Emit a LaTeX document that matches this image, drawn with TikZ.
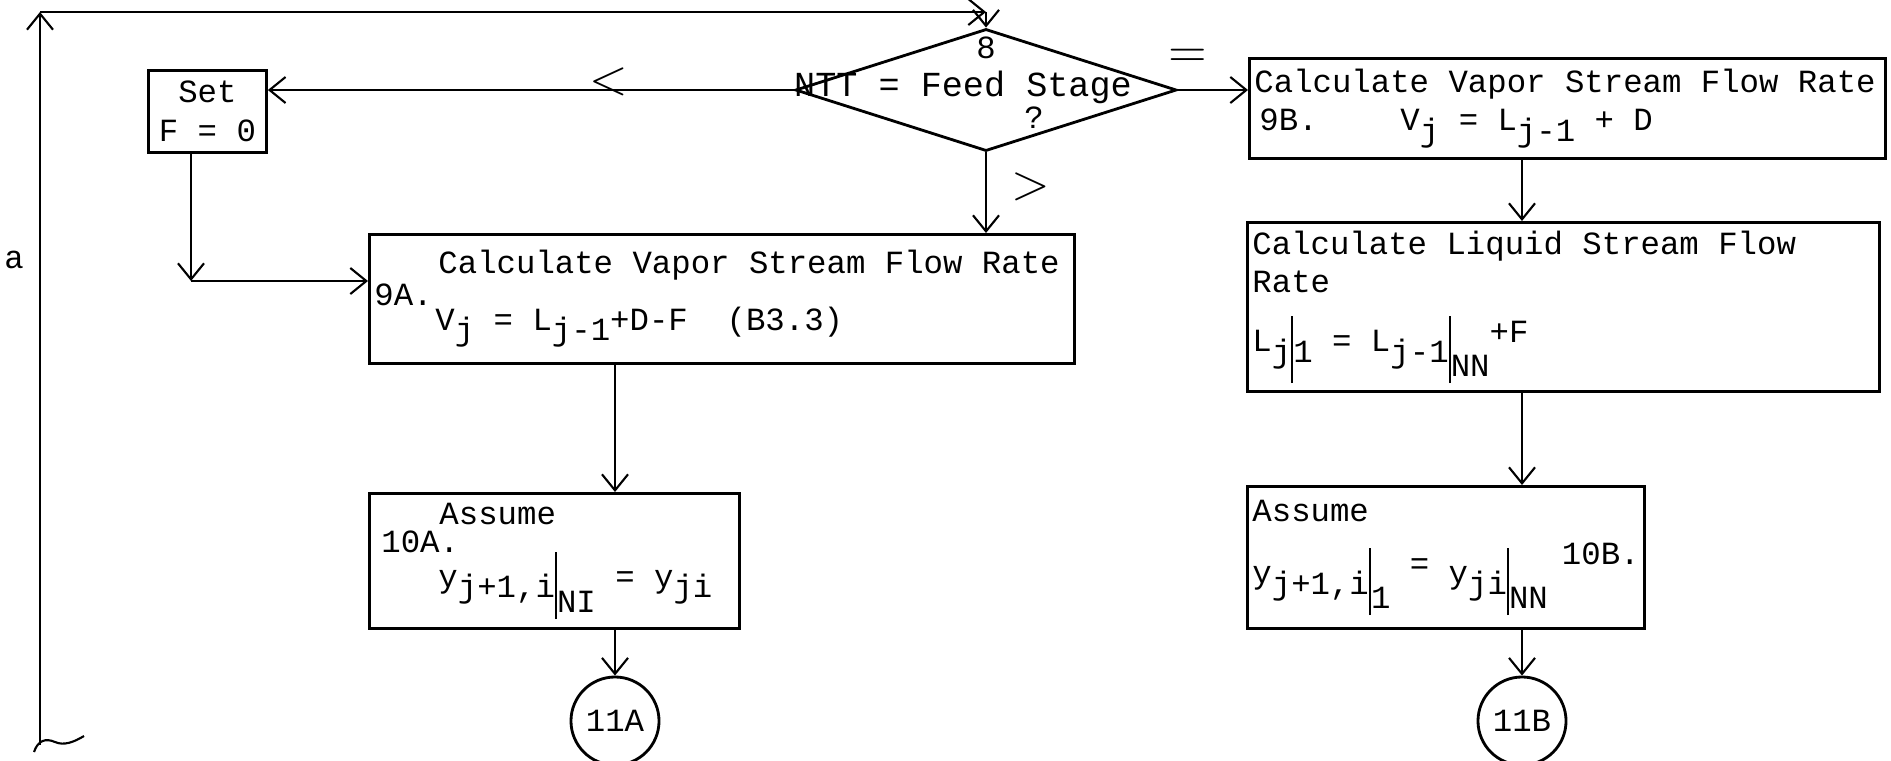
\documentclass[tikz,border=0pt]{standalone}
\usepackage{fontspec}
\setmonofont{Liberation Mono}
\usetikzlibrary{arrows.meta, positioning, shapes.geometric}
\newcommand{\tyfont}{\fontsize{9.2}{11}\ttfamily}
\newcommand{\lowr}[1]{\raisebox{-3pt}{#1}}
\newcommand{\lowrr}[1]{\raisebox{-7pt}{#1}}
\newcommand{\upr}[1]{\raisebox{2.5pt}{#1}}
\newcommand{\evbar}{\rule[-9pt]{0.6pt}{19pt}}

\begin{document}
\begin{tikzpicture}[x=0.01cm, y=-0.01cm,
    box/.style={draw, thick, rectangle, inner sep=0.05cm, align=left, anchor=north west, font=\tyfont,
      execute at begin node={\spaceskip=5.52pt\xspaceskip=5.52pt\relax}},
    decision/.style={draw, thick, diamond, inner sep=0pt, minimum width=3.81cm, minimum height=1.22cm},
    conn/.style={draw, thick, circle, inner sep=0pt, minimum size=0.88cm, font=\tyfont},
    arr/.style={-{Straight Barb[length=1.6mm, width=2.6mm]}, semithick},
    txt/.style={font=\tyfont, inner sep=0pt},
    sign/.style={font=\Large, inner sep=0pt},
]
\useasboundingbox (0,0) rectangle (1891,760);

% decision 8
\node[decision] (test) at (986,90) {};
\node[txt, font=\fontsize{10}{12}\ttfamily] (testtxt) at (963,87) {NTT = Feed Stage};
\node[txt, below=0.09cm of test.north] (num8) {8};
\node[txt] (qmark) at (1034,118) {?};
\node[sign] (lt) at (609,82) {$<$};
\node[sign] (eq) at (1188,58) {$=$};
\node[sign] (gt) at (1031,187) {$>$};

% left branch
\node[box, align=center, minimum width=1.18cm, minimum height=0.82cm] (setF) at (147,69) {Set\\F = 0};
\node[box, text width=6.95cm, minimum height=1.29cm] (calcA) at (368,233)
  {\hspace*{0.64cm}Calculate Vapor Stream Flow Rate\\[-2pt]9A.\\[-4pt]\hspace*{0.61cm}V\lowr{j} = L\lowr{j-1}+D-F~~(B3.3)\\[2pt]};
\node[box, text width=3.60cm, minimum height=1.35cm] (assumeA) at (368,492)
  {\hspace*{0.65cm}Assume\\[-3pt]\hspace*{0.07cm}10A.\\[-1pt]\hspace*{0.64cm}y\lowr{j+1,i}\evbar\lowrr{NI} = y\lowr{ji}};
\node[conn] (c11A) at (615,721) {11A};

% right branch
\node[box, text width=6.26cm, minimum height=1.00cm] (calcB) at (1248,57)
  {Calculate Vapor Stream Flow Rate\\\makebox[1.46cm][l]{\hspace*{0.05cm}9B.}V\lowr{j} = L\lowr{j-1} + D};
\node[box, text width=6.22cm, minimum height=1.69cm] (liqB) at (1246,221)
  {Calculate Liquid Stream Flow\\Rate\\[0.2cm]L\lowr{j}\evbar\lowr{1} = L\lowr{j-1}\evbar\lowrr{NN}\upr{+F}};
\node[box, text width=3.87cm, minimum height=1.42cm] (assumeB) at (1246,485)
  {Assume\\[0.05cm]\hspace*{\fill}10B.\\[-0.2cm]y\lowr{j+1,i}\evbar\lowrr{1} \upr{=} y\lowr{ji}\evbar\lowrr{NN}};
\node[conn] (c11B) at (1522,721) {11B};

% return line a
\node[txt] (lbla) at (14,260) {a};
\coordinate (abot) at (40,745);
\coordinate (atop) at (40,12);
\coordinate (aright) at (986,12);
\draw[arr] (abot) -- (atop);
\draw[arr] (atop) -- (aright);
\draw[arr] (aright) -- (test.north);
\draw[semithick] (34,752) .. controls (38,740) and (46,738) .. (55,742) .. controls (64,746) and (74,742) .. (84,736);

% connectors
\draw[arr] (test.west) -- (test.west -| setF.east);
\coordinate (fcorner) at (191,281);
\draw[arr] (setF.south -| fcorner) -- (fcorner);
\draw[arr] (fcorner) -- (fcorner -| calcA.west);
\draw[arr] (test.south) -- (test.south |- calcA.north);
\draw[arr] (c11A |- calcA.south) -- (c11A |- assumeA.north);
\draw[arr] (c11A |- assumeA.south) -- (c11A.north);
\draw[arr] (test.east) -- (test.east -| calcB.west);
\draw[arr] (c11B |- calcB.south) -- (c11B |- liqB.north);
\draw[arr] (c11B |- liqB.south) -- (c11B |- assumeB.north);
\draw[arr] (c11B |- assumeB.south) -- (c11B.north);
\end{tikzpicture}
\end{document}
